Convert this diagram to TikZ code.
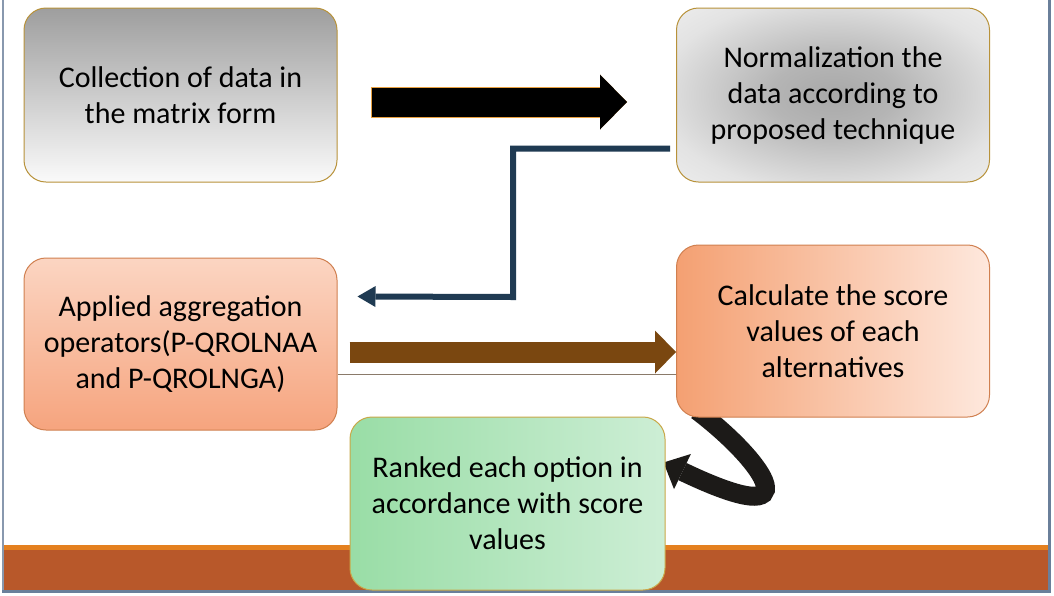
\documentclass[tikz,border=0pt]{standalone}
\usepackage{fontspec}
\setmainfont{Carlito}
\usetikzlibrary{arrows.meta,calc,shadings}
\definecolor{gtop}{HTML}{9E9E9E}
\definecolor{gbot}{HTML}{FAFAFA}
\definecolor{ptop}{HTML}{FBD5C2}
\definecolor{pbot}{HTML}{F6A47E}
\definecolor{oleft}{HTML}{F4A072}
\definecolor{oright}{HTML}{FEE8DD}
\definecolor{gleft}{HTML}{99DDA6}
\definecolor{gright}{HTML}{CDEED5}
\definecolor{goldb}{HTML}{B8923A}
\definecolor{orb}{HTML}{D08050}
\definecolor{grb}{HTML}{C9A848}
\definecolor{navy}{HTML}{1F3A52}
\definecolor{brownar}{HTML}{7A4710}
\definecolor{thinln}{HTML}{8A7A6A}
\definecolor{curvecol}{HTML}{1C1A18}
\definecolor{arrowedge}{HTML}{E8A040}
\definecolor{barorange}{HTML}{E4801F}
\definecolor{barbrown}{HTML}{B8582A}
\definecolor{framecol}{HTML}{6A7F9A}
\pgfdeclareradialshading{normrad}{\pgfpoint{0bp}{0bp}}{%
  color(0bp)=(black!34); color(10bp)=(black!29); color(28bp)=(black!11);
  color(45bp)=(black!3); color(72bp)=(white)}
\pgfdeclarelayer{bg}
\pgfsetlayers{bg,main}
\begin{document}
\begin{tikzpicture}[x=1pt,y=1pt,
  box/.style={rectangle, rounded corners=22pt, line width=1pt, inner sep=0pt,
    align=center, text=black, font=\fontsize{30}{36}\selectfont},
  wbox/.style={box, minimum width=313pt, minimum height=173pt}]
\useasboundingbox (0,0) rectangle (1054,-595);
\begin{pgfonlayer}{bg}
\fill[white] (0,0) rectangle (1054,-595);
\fill[barorange] (3,-545) rectangle (1049,-550);
\fill[barbrown] (3,-550) rectangle (1049,-590);
\draw[framecol!80, line width=2pt] (3,0) -- (3,-591);
\draw[framecol, line width=3pt] (1049.5,0) -- (1049.5,-591);
\draw[framecol, line width=3pt] (2,-591) -- (1051,-591);
\end{pgfonlayer}

\node[wbox, minimum height=174pt, draw=goldb, top color=gtop, bottom color=gbot] (n1) at (180.5,-95)
  {Collection of data in\\the matrix form};
\node[wbox, minimum height=174pt, draw=goldb, shading=normrad] (n2) at (833,-95)
  {Normalization the\\data according to\\proposed technique};
\node[wbox, minimum height=172pt, draw=orb, top color=ptop, bottom color=pbot] (n3) at (180.5,-344)
  {Applied aggregation\\operators(P-QROLNAA\\and P-QROLNGA)};
\node[wbox, minimum height=172pt, draw=orb, left color=oleft, right color=oright] (n4) at (833,-331)
  {Calculate the score\\values of each\\alternatives};
\node[wbox, minimum width=315pt, draw=grb, left color=gleft, right color=gright] (n5) at (507.5,-503.5)
  {Ranked each option in\\accordance with score\\values};

% black block arrow n1 -> n2
\draw[arrowedge, line width=31pt, -{Triangle[length=27pt,width=55pt,line width=0pt]}]
  ($(n1.east)+(33,-7)$) -- ($(n2.west)+(-49,-7)$);
\draw[black, line width=29pt, -{Triangle[length=27pt,width=55pt,line width=0pt]}]
  ($(n1.east)+(34,-7)$) -- ($(n2.west)+(-49,-7)$);

% navy elbow n2 -> n3
\coordinate (nb) at (513,-297);
\draw[navy, line width=6pt, -{Triangle[length=18pt,width=21pt,line width=0pt]}]
  ($(n2.south west)+(-6,34)$) -| (nb) -- ($(n3.north east)+(20,-39)$);

% brown arrow n3 -> n4
\draw[brownar, line width=21pt, -{Triangle[length=21pt,width=43pt,line width=0pt]}]
  ($(n3.east)+(12,-8)$) -- ($(n4.west)+(0,-21)$);
\draw[thinln, line width=1pt] ($(n3.east)+(0,-30)$) -- ($(n4.west)+(0,-43)$);

% curved arrow n4 -> n5
\begin{pgfonlayer}{bg}
\draw[curvecol, line width=19pt, -{Triangle[length=21pt,width=39pt,line width=0pt]}]
  ($(n4.south west)+(21,7)$) .. controls (765,-462) and (815,-535) .. ($(n5.north east)+(-2,-46)$);
\end{pgfonlayer}
\end{tikzpicture}
\end{document}
